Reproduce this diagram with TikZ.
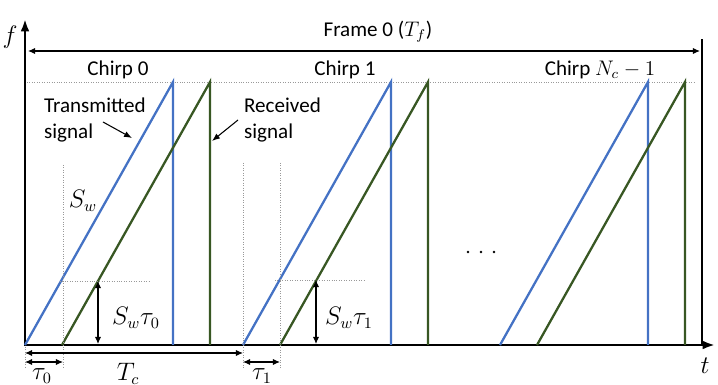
\documentclass[tikz,border=0pt]{standalone}
\usepackage{fontspec}
\setmainfont{Carlito}
\usetikzlibrary{arrows.meta}
\definecolor{txblue}{HTML}{4472C4}
\definecolor{rxgreen}{HTML}{385723}

\begin{document}
\begin{tikzpicture}[x=0.02cm, y=-0.02cm,
    axis/.style={line width=1.4pt, line cap=rect},
    txline/.style={txblue, line width=1.3pt},
    rxline/.style={rxgreen, line width=1.3pt},
    guide/.style={black!40, line width=0.4pt, densely dotted},
    dim/.style={{Latex[length=4pt,width=3.5pt]}-{Latex[length=4pt,width=3.5pt]}, line width=0.6pt},
    pointer/.style={-{Latex[length=4.5pt,width=3.5pt]}, line width=0.6pt},
    lbl/.style={font=\fontsize{12}{14.5}\selectfont, inner sep=1pt},
    mlbl/.style={font=\fontsize{13.5}{16}\selectfont, inner sep=1pt}]
  \useasboundingbox (0,0) rectangle (718,385);
  \coordinate (O) at (25,345); \coordinate (ftop) at (25,19); \coordinate (tend) at (715,345);
  \draw[axis,-{Latex[length=7pt,width=5pt]}] (O)--(ftop);
  \draw[axis,-{Latex[length=7pt,width=5pt]}] (O)--(tend);
  \node[mlbl] (flab) at (10,37) {$f$};   \node[mlbl] (tlab) at (705,366) {$t$};
  \coordinate (fr0) at (702,40); \coordinate (fr1) at (702,345); \draw[axis] (fr0)--(fr1);
  \coordinate (frL) at (28,51);  \coordinate (frR) at (700,51);  \draw[dim] (frL)--(frR);
  \node[lbl] (frame) at (378,32) {Frame 0 ($T_f$)};
  \coordinate (topL) at (27,82); \coordinate (topR) at (695,82); \draw[guide] (topL)--(topR);
  \node[lbl] (chirp0) at (118,70) {Chirp 0};
  \node[lbl] (chirp1) at (345,70) {Chirp 1};
  \node[lbl] (chirpN) at (600,70) {Chirp $N_c - 1$};
  \foreach \s/\n in {25/0, 243/1, 500/2}{
    \coordinate (tx\n a) at (\s,345);    \coordinate (tx\n b) at (\s+148,82);    \coordinate (tx\n c) at (\s+148,345);
    \coordinate (rx\n a) at (\s+37,345); \coordinate (rx\n b) at (\s+185,82); \coordinate (rx\n c) at (\s+185,345);
    \draw[txline] (tx\n a)--(tx\n b)--(tx\n c);
    \draw[rxline] (rx\n a)--(rx\n b)--(rx\n c);
  }
  \node[lbl, align=left, anchor=west] (txlab) at (42,120) {Transmitted\\signal};
  \node[lbl, align=left, anchor=west] (rxlab) at (242,120) {Received\\signal};
  \coordinate (txp0) at (103,122); \coordinate (txp1) at (132,138); \draw[pointer] (txp0)--(txp1);
  \coordinate (rxp0) at (238,120); \coordinate (rxp1) at (212,141); \draw[pointer] (rxp0)--(rxp1);
  \node[mlbl] (slope) at (83,201) {$S_w$};
  \coordinate (g0a) at (63,165);  \coordinate (g0b) at (63,368);  \draw[guide] (g0a)--(g0b);
  \coordinate (g1a) at (25,347);  \coordinate (g1b) at (25,368);  \draw[guide] (g1a)--(g1b);
  \coordinate (g2a) at (243,163); \coordinate (g2b) at (243,368); \draw[guide] (g2a)--(g2b);
  \coordinate (g3a) at (280,163); \coordinate (g3b) at (280,368); \draw[guide] (g3a)--(g3b);
  \coordinate (h0a) at (60,281);  \coordinate (h0b) at (150,281); \draw[guide] (h0a)--(h0b);
  \coordinate (h1a) at (275,280); \coordinate (h1b) at (366,280); \draw[guide] (h1a)--(h1b);
  \coordinate (d0a) at (98,281);  \coordinate (d0b) at (98,344);  \draw[dim] (d0a)--(d0b);
  \coordinate (d1a) at (316,280); \coordinate (d1b) at (316,344); \draw[dim] (d1a)--(d1b);
  \node[mlbl] (sw0) at (136,318) {$S_w\tau_0$};
  \node[mlbl] (sw1) at (349,318) {$S_w\tau_1$};
  \coordinate (tcL) at (25,353);  \coordinate (tcR) at (243,353); \draw[dim] (tcL)--(tcR);
  \coordinate (t0L) at (25,362);  \coordinate (t0R) at (63,362);  \draw[dim] (t0L)--(t0R);
  \coordinate (t1L) at (243,362); \coordinate (t1R) at (280,362); \draw[dim] (t1L)--(t1R);
  \node[mlbl] (tau0) at (42,376) {$\tau_0$};
  \node[mlbl] (tc) at (128,374) {$T_c$};
  \node[mlbl] (tau1) at (262,376) {$\tau_1$};
  \foreach \x in {468, 481, 494}
    \fill (\x,252) circle (1.3);
\end{tikzpicture}
\end{document}
